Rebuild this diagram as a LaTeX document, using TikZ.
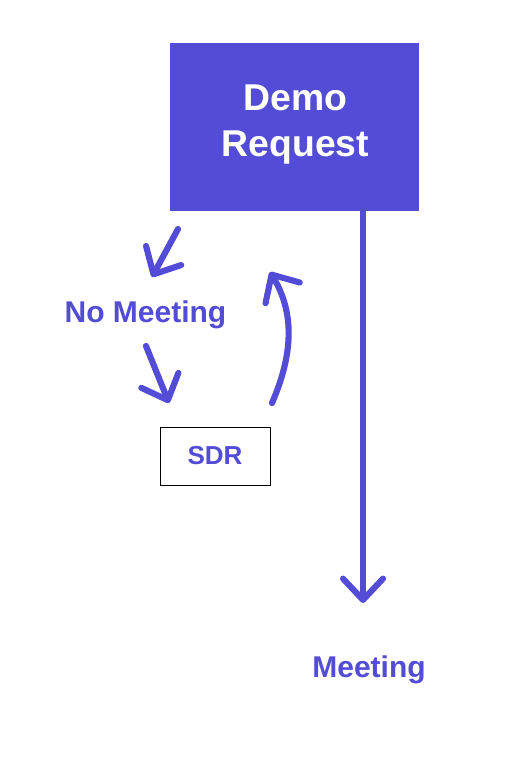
\documentclass[tikz,border=0pt]{standalone}
\usepackage{fontspec}
\setmainfont{Liberation Sans}
\usetikzlibrary{arrows.meta}
\definecolor{brand}{HTML}{524CD6}

\begin{document}
\begin{tikzpicture}[x=0.75pt, y=-0.75pt,
    flow/.style={brand, line width=4.6pt, line cap=round,
        -{Straight Barb[length=16pt, width=30pt, round]}},
    label/.style={brand, font=\fontsize{22.5pt}{26pt}\selectfont\bfseries}]
    \useasboundingbox (0,0) rectangle (519,763);

    % Boxes
    \node[fill=brand, minimum width=186.75pt, minimum height=126pt] (demo) at (294.5, 127) {};
    \node[text=white, align=center, font=\fontsize{28pt}{34.5pt}\selectfont\bfseries]
        (demotext) at (295.5, 125) {Demo\\Request};
    \node[draw=black, line width=0.75pt, minimum width=82.5pt, minimum height=43.5pt,
        text=brand, font=\fontsize{19.5pt}{23pt}\selectfont\bfseries] (sdr) at (215, 456) {SDR};

    % Labels
    \node[label] (nomeet) at (145.5, 315) {No Meeting};
    \node[label] (meet) at (369, 670) {Meeting};

    % Arrows
    \coordinate (a1s) at (178, 229); \coordinate (a1e) at (152, 277);
    \coordinate (a2s) at (146, 346); \coordinate (a2e) at (169, 403);
    \coordinate (a3s) at (272, 403); \coordinate (a3e) at (270, 272);
    \coordinate (drop) at (363, 603);
    \draw[flow] (a1s) -- (a1e);
    \draw[flow] (a2s) -- (a2e);
    \draw[flow] (a3s) .. controls (295, 350) and (293, 310) .. (a3e);
    \draw[flow, line cap=butt] (demo.south -| drop) -- (drop);
\end{tikzpicture}
\end{document}
